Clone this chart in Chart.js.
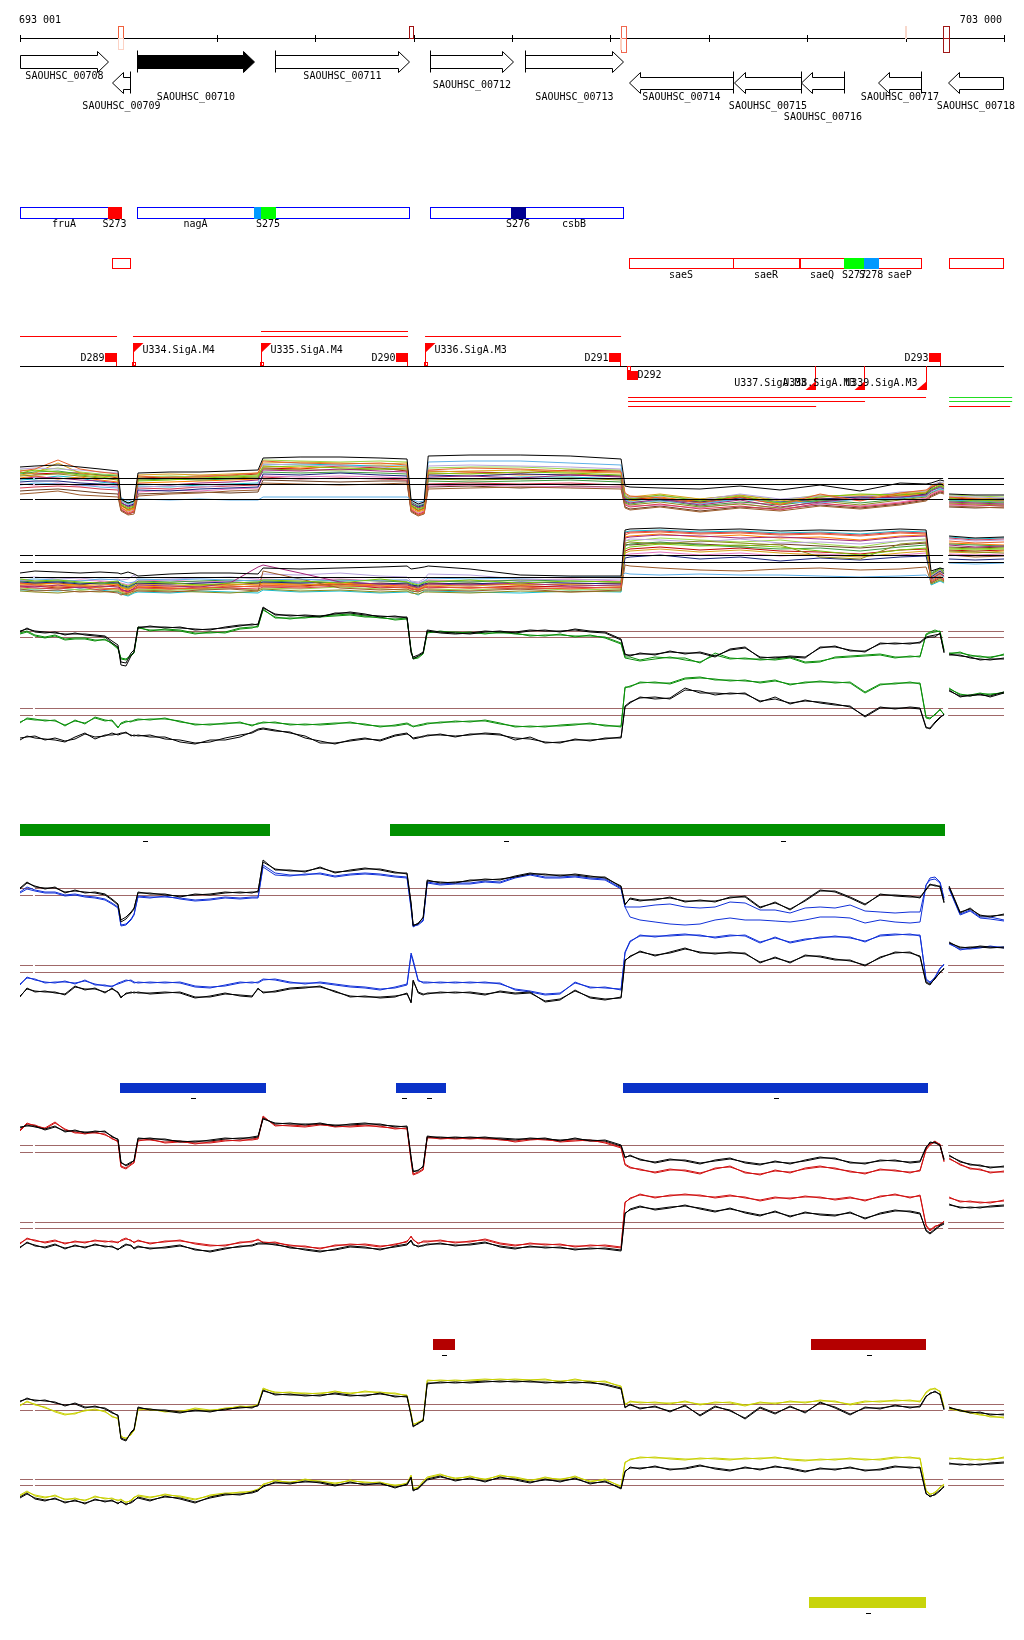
<!DOCTYPE html>
<html>
<head>
<meta charset="utf-8">
<script src="https://cdn.jsdelivr.net/npm/chart.js@4/dist/chart.umd.min.js"></script>
<style>
  html, body { margin: 0; background: #fff; }
  #c { display: block; }
</style>
</head>
<body>
<canvas id="c" width="1024" height="1640"></canvas>
<script>
// ---- region ----
const regionStart = 693001;
const regionEnd = 703000;
const axisTicks = [693001, 694001, 695001, 696001, 697001, 698001, 699001, 700001, 701001, 702001, 703000];

// ---- genes ----
const geneNames = ['SAOUHSC_00708', 'SAOUHSC_00709', 'SAOUHSC_00710', 'SAOUHSC_00711', 'SAOUHSC_00712', 'SAOUHSC_00713',
  'SAOUHSC_00714', 'SAOUHSC_00715', 'SAOUHSC_00716', 'SAOUHSC_00717', 'SAOUHSC_00718'];
const geneStart = [693001, 693936, 694190, 695593, 697168, 698133, 699190, 700257, 700938, 701721, 702432];
const geneEnd = [693895, 694119, 695379, 696955, 698011, 699129, 700247, 700938, 701375, 702158, 702991];
const geneStrand = [1, -1, 1, 1, 1, 1, -1, -1, -1, -1, -1];

// markers on the coordinate line
const markStart = [693997, 693997, 696954, 699109, 699099, 701995, 702381];
const markEnd = [694047, 694047, 696995, 699160, 699109, 702005, 702442];
const markColor = ['#f0603c', '#fcd2c4', '#a01010', '#f06850', '#fbd0c0', '#f8d8cc', '#a01818'];
const markSpan = ['up', 'down', 'up', 'full', 'down', 'up', 'full'];

// operon / site rows
const blueSegStart = [693001, 694190, 695593, 697168, 698133];
const blueSegEnd = [693895, 695379, 696955, 697991, 699129];
const blueSegLabel = ['fruA', 'nagA', '', '', 'csbB'];
const blueSiteStart = [693895, 695379, 695450, 697991];
const blueSiteEnd = [694027, 695450, 695593, 698133];
const blueSiteColor = ['#ff0000', '#0099ff', '#00ff00', '#000090'];
const blueSiteLabel = ['S273', '', 'S275', 'S276'];

const redSegStart = [693936, 699190, 700247, 700928, 701721, 702442];
const redSegEnd = [694119, 700247, 700918, 701375, 702158, 702991];
const redSegLabel = ['', 'saeS', 'saeR', 'saeQ', 'saeP', ''];
const redSiteStart = [701375, 701579];
const redSiteEnd = [701579, 701721];
const redSiteColor = ['#00ff00', '#0099ff'];
const redSiteLabel = ['S277', 'S278'];

// promoters (U) and terminators (D)
const flagNames = ['D289', 'U334.SigA.M4', 'U335.SigA.M4', 'D290', 'U336.SigA.M3', 'D291', 'D292',
  'U337.SigA.M3', 'U338.SigA.M3', 'U339.SigA.M3', 'D293'];
const flagPos = [693977, 694149, 695450, 696934, 697117, 699099, 699169, 701081, 701579, 702208, 702350];
const flagStrand = [1, 1, 1, 1, 1, 1, -1, -1, -1, -1, 1];

// transcripts
const txStart = [693001, 694149, 695450, 697117, 699180, 699180, 699180, 702442, 702442, 702442];
const txEnd = [693987, 696944, 696944, 699109, 702208, 701588, 701091, 703083, 703083, 703063];
const txStrand = [1, 1, 1, 1, -1, -1, -1, -1, -1, -1];
const txLevel = [0, 0, 1, 0, 0, 1, 2, 0, 1, 2];
const txColor = ['#ff0000', '#ff0000', '#ff0000', '#ff0000', '#ff0000', '#ff0000', '#ff0000', '#22dd22', '#22dd22', '#ff0000'];

// condition segments (bars)
const greenBarStart = [693001, 696761, 699109];
const greenBarEnd = [695542, 699109, 702401];
const blueBarStart = [694017, 696822, 696975, 699129];
const blueBarEnd = [695501, 696975, 697330, 702229];
const redBarStart = [697198, 701040];
const redBarEnd = [697422, 702208];
const yellowBarStart = [701020];
const yellowBarEnd = [702208];

// ---- profile positions ----
const gridPos = [693001, 693072, 693153, 693255, 693357, 693458, 693560, 693661, 693763, 693865, 693936, 693997,
  694027, 694078, 694129, 694160,
  694200, 694322, 694474, 694627, 694780, 694932, 695085, 695237, 695359, 695420,
  695471, 695593, 695745, 695898, 696050, 696202, 696355, 696507, 696660, 696812, 696934,
  696975, 696996, 697047, 697098,
  697139, 697271, 697424, 697574, 697727, 697879, 698032, 698184, 698337, 698489, 698641, 698794, 698946, 699109,
  699149, 699200, 699301, 699454, 699606, 699759, 699911, 700064, 700216, 700369, 700521, 700674, 700826, 700979,
  701131, 701283, 701436, 701588, 701741, 701893, 702045, 702147, 702208,
  702248, 702299, 702350, 702391,
  702411,
  702442, 702554, 702656, 702757, 702859, 703000];

const bundlePos = [693001, 693153, 693387, 693611, 693814, 693997,
  694027, 694099, 694160,
  694200, 694525, 694830, 695135, 695420,
  695471, 695847, 696253, 696660, 696934,
  696975, 697047, 697108,
  697149, 697574, 698083, 698591, 699109,
  699149, 699200, 699505, 699911, 700318, 700725, 701131, 701538, 701944, 702208,
  702259, 702350, 702391,
  702411,
  702442, 702706, 703000];

// ---- all-condition profiles, strand + ----
const bundleColors = ['#000000', '#e8602c', '#7ac70c', '#a3277a', '#5fb0e8', '#9b5a2a', '#8a8a1a', '#1a237e', '#b7a3dc',
  '#d9a21a', '#d6394f', '#3e9a3e', '#ff7f00', '#98d848', '#e377c2', '#17becf', '#6b3d1f', '#c00000'];
const bundleA1 = [3.2, 3.3, 3.4, 3.2, 3.0, 2.8, 0.0, -0.4, -0.2, 2.6, 2.7, 2.7, 2.8, 2.9, 4.1, 4.2, 4.2, 4.1, 4.0, -0.1, -0.5, -0.3, 4.3, 4.4, 4.4, 4.3, 4.0, 1.3, 1.2, 1.1, 1.0, 1.3, 0.9, 1.4, 0.8, 1.6, 1.5, 1.6, 1.9, 1.8, null, 0.5, 0.4, 0.4];
const bundleA2 = [2.8, 3.0, 3.9, 3.0, 2.7, 2.5, -0.8, -1.4, -1.2, 2.3, 2.1, 2.2, 2.4, 2.6, 3.8, 3.6, 3.5, 3.6, 3.4, -1.0, -1.6, -1.4, 2.9, 3.1, 3.0, 2.8, 2.7, 0.6, 0.3, 0.1, -0.4, 0.2, -0.6, 0.5, -0.2, 0.6, 0.9, 1.2, 1.5, 1.4, null, 0.2, 0.0, -0.1];
const bundleA3 = [2.6, 2.9, 2.7, 2.4, 2.2, 2.0, -0.5, -0.9, -0.7, 1.8, 1.9, 2.1, 2.2, 2.3, 3.2, 3.3, 3.1, 3.0, 3.1, -0.6, -1.0, -0.8, 2.6, 2.5, 2.7, 2.6, 2.4, 0.2, 0.0, 0.4, -0.2, 0.3, -0.4, 0.2, 0.5, 0.4, 0.6, 1.0, 1.4, 1.2, null, 0.1, -0.2, -0.1];
const bundleA4 = [2.0, 2.2, 2.1, 1.9, 1.8, 1.6, -0.3, -0.8, -0.6, 1.5, 1.4, 1.6, 1.7, 1.9, 2.9, 2.8, 3.0, 2.8, 2.7, -0.4, -0.9, -0.7, 2.2, 2.3, 2.1, 2.4, 2.2, -0.2, -0.4, 0.0, -0.6, -0.1, -0.8, -0.3, 0.1, 0.2, 0.4, 0.8, 1.2, 1.0, null, -0.3, -0.4, -0.5];
const bundleA5 = [1.4, 1.6, 1.5, 1.4, 1.2, 1.1, 0.1, -0.2, 0.0, 0.0, -0.1, 0.0, -0.1, -0.1, 0.2, 0.2, 0.2, 0.2, 0.2, 0.0, -0.3, -0.2, 3.7, 3.8, 3.8, 3.6, 3.4, -0.1, -0.3, -0.2, -0.5, 0.0, -0.3, -0.4, 0.0, 0.1, 0.3, 0.7, 1.0, 0.9, null, 0.0, -0.2, -0.2];
const bundleA6 = [0.5, 0.6, 0.8, 0.4, 0.3, 0.2, -1.2, -1.6, -1.5, 0.3, 0.5, 0.6, 0.8, 0.9, 1.6, 1.5, 1.4, 1.5, 1.6, -1.3, -1.7, -1.5, 1.0, 1.1, 1.2, 1.1, 1.0, -0.9, -1.1, -0.8, -1.3, -0.9, -1.2, -0.7, -1.0, -0.6, -0.2, 0.2, 0.6, 0.5, null, -0.7, -0.8, -0.9];
const bundleA7 = [2.3, 2.4, 2.5, 2.3, 2.1, 1.9, -0.6, -1.0, -0.8, 2.0, 2.1, 2.0, 2.1, 2.2, 3.0, 2.9, 2.9, 3.0, 2.9, -0.7, -1.1, -0.9, 2.0, 1.9, 2.0, 2.1, 1.9, -0.4, -0.6, -0.3, -0.8, -0.5, -0.9, -0.2, -0.6, -0.1, 0.2, 0.6, 1.0, 0.8, null, -0.4, -0.5, -0.6];
const bundleA8 = [1.7, 1.8, 1.8, 1.6, 1.5, 1.4, -0.4, -0.7, -0.5, 0.9, 0.8, 1.0, 1.1, 1.2, 2.5, 2.4, 2.6, 2.4, 2.3, -0.5, -0.8, -0.6, 2.4, 2.3, 2.5, 2.4, 2.3, 0.0, 0.0, -0.1, -0.3, 0.1, -0.3, 0.0, 0.2, 0.1, 0.5, 1.1, 1.6, 1.3, null, 0.0, -0.1, 0.0];
const bundleA9 = [3.0, 3.1, 3.0, 2.9, 2.7, 2.6, -0.2, -0.6, -0.4, 1.2, 1.3, 1.2, 1.4, 1.5, 3.5, 3.4, 3.3, 3.2, 3.0, -0.2, -0.6, -0.4, 3.3, 3.4, 3.3, 3.2, 3.0, 0.4, 0.1, 0.3, -0.1, 0.5, 0.0, 0.3, 0.2, 0.7, 0.8, 1.4, 1.7, 1.6, null, 0.3, 0.2, 0.1];
const bundleA10 = [2.4, 2.6, 3.6, 2.6, 2.3, 2.2, -0.9, -1.2, -1.0, 2.4, 2.5, 2.4, 2.5, 2.6, 3.6, 3.7, 3.6, 3.5, 3.6, -0.9, -1.3, -1.1, 2.7, 2.8, 2.9, 2.7, 2.6, 0.3, 0.2, 0.5, 0.0, 0.4, -0.2, 0.3, 0.4, 0.5, 0.7, 1.3, 1.6, 1.5, null, 0.2, 0.1, 0.0];
const bundleA11 = [1.1, 1.2, 1.3, 1.2, 1.0, 0.9, -1.0, -1.5, -1.3, 1.1, 1.0, 1.2, 1.3, 1.4, 2.2, 2.0, 2.1, 2.0, 1.9, -1.1, -1.5, -1.3, 1.5, 1.6, 1.5, 1.6, 1.4, -0.6, -0.8, -0.5, -1.0, -0.7, -1.1, -0.4, -0.8, -0.4, 0.0, 0.4, 0.8, 0.7, null, -0.5, -0.6, -0.7];
const bundleA12 = [2.5, 2.7, 2.8, 2.5, 2.4, 2.3, -0.1, -0.4, -0.2, 1.9, 2.0, 1.9, 2.0, 2.1, 2.7, 2.6, 2.7, 2.6, 2.5, -0.3, -0.7, -0.5, 1.8, 1.7, 1.8, 1.9, 1.7, -0.3, -0.5, -0.1, -0.7, -0.3, -0.6, -0.1, -0.4, 0.0, 0.3, 0.9, 1.3, 1.1, null, -0.2, -0.3, -0.4];
const bundleA13 = [2.1, 2.3, 2.0, 2.2, 1.9, 1.7, -0.7, -1.1, -0.9, 1.6, 1.7, 1.8, 1.9, 2.0, 3.3, 3.1, 3.2, 3.3, 3.2, -0.8, -1.2, -1.0, 2.5, 2.6, 2.4, 2.5, 2.3, 0.1, -0.2, 0.2, -0.3, 0.1, -0.5, 0.0, 0.3, 0.3, 0.5, 1.0, 1.3, 1.2, null, 0.0, -0.1, -0.3];
const bundleA14 = [2.9, 2.8, 3.1, 2.7, 2.5, 2.4, -0.4, -0.8, -0.6, 2.2, 2.3, 2.2, 2.3, 2.4, 3.9, 3.8, 3.7, 3.8, 3.7, -0.5, -0.9, -0.7, 3.1, 3.2, 3.2, 3.0, 2.9, 0.5, 0.2, 0.3, 0.0, 0.4, -0.1, 0.4, 0.1, 0.6, 0.8, 1.3, 1.7, 1.5, null, 0.4, 0.3, 0.2];
const bundleA15 = [1.5, 1.4, 1.6, 1.3, 1.4, 1.2, -0.9, -1.3, -1.1, 0.7, 0.9, 0.8, 1.0, 1.1, 2.3, 2.2, 2.3, 2.2, 2.1, -1.0, -1.4, -1.2, 1.3, 1.4, 1.3, 1.2, 1.2, -0.5, -0.7, -0.6, -0.9, -0.4, -1.0, -0.5, -0.7, -0.3, 0.1, 0.5, 0.9, 0.7, null, -0.6, -0.7, -0.6];
const bundleA16 = [1.9, 2.0, 2.3, 2.1, 1.7, 1.5, -0.2, -0.5, -0.3, 1.3, 1.2, 1.4, 1.5, 1.6, 3.4, 3.5, 3.4, 3.3, 3.3, -0.3, -0.7, -0.5, 2.1, 2.0, 2.2, 2.2, 2.0, -0.1, -0.2, 0.1, -0.4, 0.0, -0.4, -0.2, 0.0, 0.2, 0.4, 0.9, 1.1, 1.0, null, -0.1, -0.2, -0.3];
const bundleA17 = [0.8, 0.9, 1.0, 0.8, 0.6, 0.5, -1.1, -1.5, -1.3, 0.5, 0.6, 0.7, 0.6, 0.7, 1.9, 1.8, 1.7, 1.8, 1.8, -1.2, -1.6, -1.4, 1.2, 1.3, 1.1, 1.3, 1.2, -0.8, -1.0, -0.7, -1.2, -0.8, -1.0, -0.6, -0.9, -0.5, -0.1, 0.3, 0.7, 0.6, null, -0.8, -0.9, -0.8];
const bundleA18 = [2.7, 2.5, 2.6, 2.6, 2.4, 2.1, -0.6, -1.1, -0.9, 2.1, 2.2, 2.3, 2.3, 2.5, 3.1, 3.0, 3.3, 3.1, 2.8, -0.6, -1.2, -0.9, 2.8, 2.7, 2.6, 2.9, 2.8, 0.3, 0.1, 0.0, -0.2, 0.2, -0.3, 0.1, -0.1, 0.4, 0.6, 1.2, 1.5, 1.3, null, 0.1, 0.0, -0.2];

// ---- all-condition profiles, strand - ----
const bundleB1 = [0.4, 0.6, 0.5, 0.4, 0.5, 0.4, 0.3, 0.5, 0.3, 0.1, 0.3, 0.4, 0.4, 0.3, 0.9, 0.8, 0.9, 1.0, 1.1, 0.8, 0.9, 1.0, 1.1, 0.8, 0.2, 0.1, 0.1, 4.7, 4.8, 4.9, 4.7, 4.8, 4.6, 4.7, 4.6, 4.8, 4.7, 0.6, 0.9, 0.8, null, 4.1, 3.9, 4.0];
const bundleB2 = [-0.6, -0.8, -1.0, -0.9, -1.1, -1.2, -1.4, -1.6, -1.3, -1.0, -1.2, -1.1, -0.9, -1.0, -0.8, -1.0, -0.7, -0.9, -1.1, -1.2, -1.3, -1.1, -0.9, -1.1, -1.0, -1.2, -1.0, 4.2, 4.4, 4.5, 4.3, 4.4, 4.2, 4.3, 4.1, 4.4, 4.3, -0.4, 0.1, -0.2, null, 3.6, 3.4, 3.5];
const bundleB3 = [-0.2, -0.4, -0.3, -0.5, -0.6, -0.4, -0.7, -0.9, -0.6, -0.5, -0.6, -0.8, -0.6, -0.5, -0.3, -0.4, -0.6, -0.2, -0.5, -0.6, -0.8, -0.5, -0.5, -0.3, -0.6, -0.4, -0.5, 2.8, 3.0, 3.3, 3.1, 3.2, 3.0, 2.6, 2.2, 2.7, 2.9, 0.2, 0.8, 0.4, null, 2.9, 2.8, 2.9];
const bundleB4 = [-0.9, -1.0, -0.8, -1.1, -0.9, -1.0, -1.2, -1.5, -1.1, -0.8, -0.9, -1.0, -0.6, 1.0, 1.2, 0.4, -0.5, -0.7, -0.8, -0.9, -1.1, -0.8, -0.7, -0.8, -0.6, -0.9, -0.8, 3.9, 4.0, 4.2, 4.1, 3.9, 4.0, 3.8, 3.6, 4.0, 4.1, -0.2, 0.4, 0.1, null, 3.2, 3.0, 3.1];
const bundleB5 = [-0.3, -0.2, -0.3, -0.4, -0.2, -0.3, -0.4, -0.6, -0.5, -0.2, -0.3, -0.2, -0.3, -0.4, -0.3, -0.2, -0.4, -0.3, -0.3, -0.5, -0.7, -0.4, -0.1, -0.2, -0.1, 0.0, 0.0, 0.4, 0.3, 0.2, 0.3, 0.2, 0.2, 0.1, 0.0, 0.1, 0.2, -0.3, 0.2, 0.0, null, 1.4, 1.3, 1.4];
const bundleB6 = [-1.2, -1.4, -1.3, -1.5, -1.4, -1.6, -1.8, -1.6, -1.4, -1.4, -1.5, -1.3, -1.2, -1.4, 0.6, -0.2, -1.1, -1.3, -1.2, -1.4, -1.5, -1.3, -1.3, -1.4, -1.2, -1.5, -1.3, 1.2, 1.1, 0.9, 0.7, 0.6, 0.8, 0.9, 0.7, 0.8, 1.0, -0.6, -0.1, -0.4, null, 2.2, 2.0, 2.1];
const bundleB7 = [-1.4, -1.5, -1.6, -1.4, -1.5, -1.4, -1.6, -1.8, -1.5, -1.3, -1.4, -1.5, -1.6, -1.4, -1.2, -1.4, -1.3, -1.5, -1.4, -1.6, -1.7, -1.5, -1.5, -1.6, -1.4, -1.5, -1.4, 3.4, 3.5, 3.3, 3.6, 3.4, 3.2, 2.0, 1.8, 3.3, 3.5, -0.7, -0.3, -0.5, null, 2.6, 2.5, 2.4];
const bundleB8 = [-0.5, -0.6, -0.5, -0.7, -0.6, -0.5, -0.8, -1.0, -0.7, -0.6, -0.7, -0.6, -0.5, -0.6, -0.5, -0.6, -0.5, -0.7, -0.6, -0.8, -0.9, -0.7, -0.6, -0.7, -0.5, -0.6, -0.7, 1.9, 2.0, 2.2, 1.8, 2.0, 1.6, 1.9, 1.7, 2.0, 2.1, 0.0, 0.6, 0.3, null, 1.8, 1.7, 1.8];
const bundleB9 = [-0.1, 0.0, -0.2, -0.1, -0.3, -0.2, -0.3, -0.2, 0.2, -0.3, -0.2, -0.1, 0.0, -0.2, 0.3, 0.2, 0.4, 0.1, 0.0, -0.4, -0.5, -0.2, 0.3, 0.2, -0.2, -0.3, -0.2, 3.6, 3.8, 3.7, 3.5, 3.8, 3.4, 3.5, 3.3, 3.6, 3.7, 0.1, 0.7, 0.5, null, 3.8, 3.6, 3.7];
const bundleB10 = [-0.8, -0.7, -0.9, -0.8, -1.0, -0.9, -1.0, -1.2, -0.9, -0.7, -0.8, -0.9, -0.8, -0.7, -0.6, -0.7, -0.9, -0.8, -0.7, -1.0, -1.2, -0.9, -0.8, -0.9, -0.7, -0.8, -0.9, 2.4, 2.6, 2.8, 2.5, 2.7, 2.4, 2.2, 2.0, 2.4, 2.6, -0.1, 0.5, 0.3, null, 2.5, 2.4, 2.6];
const bundleB11 = [-1.0, -1.1, -1.2, -1.0, -1.3, -1.1, -1.3, -1.5, -1.2, -1.1, -1.2, -1.0, -1.1, -1.2, -1.0, -1.1, -0.9, -1.0, -1.0, -1.1, -1.4, -1.0, -1.1, -1.0, -1.2, -1.1, -1.0, 4.4, 4.5, 4.6, 4.4, 4.5, 4.3, 4.4, 4.2, 4.5, 4.4, -0.5, 0.0, -0.3, null, 3.9, 3.7, 3.8];
const bundleB12 = [-0.4, -0.5, -0.4, -0.6, -0.7, -0.6, -0.9, -1.1, -0.8, -0.4, -0.5, -0.4, -0.3, -0.4, -0.4, -0.5, -0.3, -0.4, -0.5, -0.7, -0.9, -0.6, -0.4, -0.5, -0.3, -0.4, -0.5, 3.1, 3.3, 3.5, 3.2, 3.0, 2.8, 2.9, 2.6, 3.0, 3.2, 0.4, 0.9, 0.6, null, 3.3, 3.2, 3.1];
const bundleB13 = [-0.7, -0.6, -0.7, -0.8, -0.8, -0.7, -1.1, -1.3, -1.0, -0.9, -1.0, -0.9, -0.7, -0.8, -0.7, -0.8, -0.6, -0.8, -0.9, -1.0, -1.2, -1.0, -0.6, -0.7, -0.8, -0.7, -0.6, 4.0, 4.1, 4.3, 4.0, 4.2, 3.9, 4.0, 3.7, 4.1, 4.2, -0.3, 0.3, 0.0, null, 3.4, 3.3, 3.2];
const bundleB14 = [-1.1, -1.2, -1.1, -1.3, -1.2, -1.3, -1.5, -1.7, -1.3, -1.2, -1.3, -1.2, -1.1, -1.3, -1.1, -1.2, -1.0, -1.2, -1.3, -1.3, -1.5, -1.2, -1.2, -1.3, -1.1, -1.3, -1.2, 3.7, 3.6, 3.9, 3.7, 3.5, 3.7, 3.3, 3.0, 3.6, 3.8, -0.6, -0.2, -0.4, null, 2.8, 2.7, 2.8];
const bundleB15 = [-0.3, -0.4, -0.5, -0.3, -0.4, -0.5, -0.6, -0.8, -0.5, -0.4, -0.3, -0.5, -0.4, -0.3, -0.2, -0.3, -0.2, -0.4, -0.3, -0.5, -0.6, -0.4, -0.3, -0.4, -0.3, -0.2, -0.4, 2.2, 2.3, 2.5, 2.2, 2.4, 2.1, 2.3, 2.1, 2.2, 2.4, 0.1, 0.7, 0.4, null, 2.3, 2.2, 2.3];
const bundleB16 = [-1.3, -1.3, -1.4, -1.2, -1.3, -1.5, -1.7, -1.9, -1.6, -1.5, -1.6, -1.4, -1.5, -1.6, -1.3, -1.5, -1.4, -1.6, -1.5, -1.5, -1.8, -1.4, -1.4, -1.5, -1.6, -1.4, -1.5, 4.5, 4.6, 4.7, 4.5, 4.6, 4.4, 4.5, 4.3, 4.6, 4.5, -0.8, -0.4, -0.6, null, 4.0, 3.8, 3.9];
const bundleB17 = [-0.6, -0.7, -0.6, -0.8, -0.5, -0.7, -1.0, -1.2, -0.9, -0.7, -0.6, -0.7, -0.8, -0.6, -0.6, -0.7, -0.8, -0.6, -0.7, -0.9, -1.0, -0.8, -0.7, -0.6, -0.8, -0.7, -0.6, 3.3, 3.2, 3.4, 3.3, 3.1, 3.3, 3.1, 2.9, 3.2, 3.4, 0.3, 0.8, 0.5, null, 3.0, 2.9, 3.0];
const bundleB18 = [-0.9, -0.9, -1.1, -1.0, -1.0, -0.8, -1.3, -1.4, -1.2, -1.0, -1.1, -1.2, -1.0, -0.9, -0.9, -0.9, -0.7, -1.1, -1.0, -1.2, -1.3, -1.0, -1.0, -1.1, -0.9, -1.0, -1.1, 2.6, 2.8, 3.0, 2.7, 2.9, 2.6, 2.5, 2.3, 2.7, 2.8, -0.2, 0.3, 0.1, null, 2.7, 2.6, 2.7];

// ---- condition 1 (green) vs reference (black), two replicates each ----
const c1PlusRef = [0.5, 0.9, 0.5, 0.4, 0.5, 0.2, 0.4, 0.2, 0.1, 0.0, -0.6, -1.0, -2.5, -2.6, -1.6, -1.3, 1.0, 1.0, 1.0, 0.9, 0.8, 0.7, 1.0, 1.2, 1.2, 1.3, 3.0, 2.2, 2.2, 2.1, 2.0, 2.4, 2.4, 2.2, 2.1, 2.0, 2.0, -1.6, -2.0, -1.8, -1.5, 0.6, 0.4, 0.3, 0.4, 0.6, 0.5, 0.5, 0.7, 0.6, 0.6, 0.7, 0.5, 0.4, -0.3, -1.8, -1.8, -1.7, -1.7, -1.5, -1.6, -1.6, -2.0, -1.2, -1.0, -2.1, -2.0, -2.0, -2.1, -1.0, -1.0, -1.3, -1.5, -0.6, -0.7, -0.6, -0.6, -0.1, 0.0, 0.0, 0.4, -1.6, null, -1.8, -1.8, -2.1, -2.2, -2.3, -2.1];
const c1PlusRef2 = [0.6, 0.8, 0.6, 0.5, 0.4, 0.3, 0.3, 0.3, 0.2, 0.1, -0.4, -0.8, -2.8, -2.9, -1.9, -1.5, 0.9, 1.1, 0.9, 1.0, 0.7, 0.8, 0.9, 1.1, 1.3, 1.2, 2.9, 2.3, 2.1, 2.2, 2.1, 2.3, 2.5, 2.3, 2.0, 2.1, 1.9, -1.4, -2.2, -1.9, -1.6, 0.7, 0.5, 0.4, 0.3, 0.5, 0.6, 0.4, 0.6, 0.7, 0.5, 0.8, 0.6, 0.5, -0.2, -1.7, -1.9, -1.6, -1.8, -1.4, -1.7, -1.5, -1.9, -1.3, -1.1, -2.0, -2.1, -1.9, -2.0, -1.1, -0.9, -1.4, -1.4, -0.7, -0.6, -0.7, -0.5, 0.0, 0.1, 0.2, 0.3, -1.5, null, -1.7, -1.9, -2.0, -2.3, -2.2, -2.2];
const c1Plus = [0.4, 0.6, 0.2, 0.0, 0.2, -0.2, -0.1, -0.1, -0.3, -0.3, -0.6, -1.1, -2.1, -2.2, -1.8, -1.5, 1.0, 0.6, 0.8, 0.7, 0.4, 0.4, 0.5, 0.9, 1.0, 1.0, 2.8, 1.9, 1.9, 1.9, 2.1, 2.2, 2.3, 2.1, 1.9, 1.8, 1.9, -1.3, -2.1, -2.0, -1.6, 0.5, 0.5, 0.5, 0.4, 0.4, 0.4, 0.4, 0.1, 0.2, 0.2, 0.1, 0.1, 0.0, -0.6, -2.0, -2.0, -2.3, -2.0, -2.1, -2.1, -2.6, -1.6, -2.1, -2.2, -2.2, -2.3, -2.1, -2.6, -2.5, -2.0, -1.9, -1.8, -1.7, -2.0, -2.0, -1.9, 0.2, 0.4, 0.5, 0.6, -1.3, null, -1.6, -1.6, -1.8, -2.0, -2.0, -1.8];
const c1Plus2 = [0.3, 0.5, 0.1, -0.1, 0.1, -0.3, -0.2, -0.2, -0.4, -0.2, -0.7, -1.2, -2.2, -2.3, -1.9, -1.6, 0.9, 0.7, 0.7, 0.6, 0.3, 0.5, 0.4, 0.8, 0.9, 1.1, 2.7, 2.0, 1.8, 2.0, 2.0, 2.1, 2.2, 2.0, 2.0, 1.7, 1.8, -1.4, -2.2, -2.1, -1.7, 0.4, 0.6, 0.4, 0.5, 0.3, 0.5, 0.3, 0.2, 0.1, 0.3, 0.0, 0.2, -0.1, -0.7, -2.1, -2.2, -2.4, -2.2, -2.0, -2.3, -2.5, -1.8, -2.2, -2.1, -2.3, -2.2, -2.0, -2.5, -2.4, -2.1, -2.0, -1.9, -1.8, -2.1, -1.9, -2.0, 0.3, 0.5, 0.7, 0.5, -1.4, null, -1.7, -1.5, -1.9, -1.9, -2.1, -1.7];
const c1MinusRef = [-2.5, -2.1, -2.3, -2.4, -2.5, -2.7, -2.2, -1.8, -2.4, -2.0, -2.0, -1.9, -1.8, -1.8, -2.0, -2.1, -2.0, -2.2, -2.2, -2.7, -2.9, -2.5, -2.5, -2.2, -1.7, -1.4, -1.3, -1.5, -1.8, -2.1, -2.8, -2.8, -2.6, -2.4, -2.5, -2.0, -1.8, -2.2, -2.3, -2.2, -2.2, -2.0, -2.0, -2.1, -2.0, -1.8, -1.9, -2.5, -2.2, -2.8, -2.7, -2.5, -2.5, -2.4, -2.2, 0.8, 1.2, 1.8, 1.6, 1.7, 2.7, 2.2, 2.2, 2.1, 2.2, 1.3, 1.8, 1.1, 1.5, 1.2, 1.0, 0.9, -0.2, 0.7, 0.7, 0.7, 0.6, -1.3, -1.3, -0.7, -0.2, 0.0, null, 2.5, 1.8, 2.0, 2.0, 1.9, 2.3];
const c1MinusRef2 = [-2.3, -2.2, -2.1, -2.5, -2.3, -2.6, -2.4, -1.9, -2.2, -2.1, -1.8, -2.0, -1.9, -1.7, -2.1, -2.0, -2.1, -2.0, -2.4, -2.5, -2.8, -2.7, -2.3, -2.0, -1.8, -1.5, -1.4, -1.6, -1.7, -2.3, -2.6, -2.9, -2.5, -2.3, -2.6, -2.1, -1.9, -2.1, -2.4, -2.3, -2.1, -2.1, -1.9, -2.2, -1.9, -1.9, -2.0, -2.3, -2.4, -2.7, -2.8, -2.4, -2.6, -2.3, -2.3, 0.9, 1.3, 1.7, 1.8, 1.6, 2.5, 2.4, 2.0, 2.2, 2.1, 1.4, 1.6, 1.2, 1.4, 1.3, 1.1, 0.8, -0.1, 0.8, 0.6, 0.8, 0.7, -1.2, -1.4, -0.8, -0.3, 0.1, null, 2.4, 1.9, 1.9, 2.1, 1.8, 2.2];
const c1Minus = [-0.8, -0.3, -0.4, -0.6, -0.5, -1.1, -0.5, -0.9, -0.2, -0.5, -0.6, -1.3, -0.8, -0.6, -0.7, -0.5, -0.4, -0.5, -0.3, -0.7, -0.9, -1.0, -0.8, -0.8, -1.0, -0.9, -0.7, -0.8, -0.9, -1.0, -0.9, -0.8, -0.8, -0.9, -1.2, -1.0, -0.8, -1.0, -1.2, -1.0, -0.9, -0.8, -0.8, -0.6, -0.7, -0.5, -0.8, -1.2, -1.1, -1.2, -1.0, -0.9, -0.9, -1.0, -1.2, 2.8, 2.8, 3.3, 3.2, 3.2, 3.7, 3.8, 3.5, 3.5, 3.4, 3.3, 3.5, 3.0, 3.3, 3.3, 3.3, 3.2, 2.2, 3.0, 3.2, 3.2, 3.2, -0.2, -0.3, 0.0, 0.6, 0.0, null, 2.7, 2.0, 2.0, 2.2, 2.0, 2.3];
const c1Minus2 = [-0.7, -0.4, -0.5, -0.5, -0.6, -1.0, -0.6, -0.8, -0.3, -0.6, -0.5, -1.2, -0.9, -0.7, -0.6, -0.6, -0.5, -0.4, -0.4, -0.6, -1.0, -0.9, -0.9, -0.7, -1.1, -0.8, -0.8, -0.7, -1.0, -0.9, -1.0, -0.9, -0.7, -1.0, -1.1, -1.1, -0.9, -1.1, -1.1, -1.1, -1.0, -0.9, -0.7, -0.7, -0.6, -0.6, -0.9, -1.1, -1.2, -1.1, -1.1, -1.0, -0.8, -1.1, -1.1, 2.7, 2.9, 3.2, 3.3, 3.1, 3.6, 3.7, 3.6, 3.4, 3.5, 3.2, 3.4, 3.1, 3.2, 3.4, 3.2, 3.3, 2.3, 3.1, 3.1, 3.3, 3.1, -0.3, -0.4, 0.1, 0.5, 0.1, null, 2.6, 2.1, 1.9, 2.1, 2.1, 2.2];

// ---- condition 2 (blue) vs reference (black) ----
const c2PlusRef = [0.7, 1.3, 0.8, 0.7, 0.7, 0.3, 0.4, 0.3, 0.2, 0.0, -0.5, -1.0, -2.5, -2.2, -1.7, -1.3, 0.2, 0.2, 0.0, -0.1, 0.0, 0.1, 0.3, 0.2, 0.3, 0.3, 3.5, 2.5, 2.5, 2.3, 2.8, 2.2, 2.5, 2.7, 2.5, 2.2, 2.2, -0.8, -3.1, -2.8, -2.3, 1.5, 1.2, 1.3, 1.4, 1.6, 1.5, 1.9, 2.2, 2.0, 2.0, 2.0, 1.8, 1.8, 0.8, -1.0, -0.3, -0.5, -0.5, -0.2, -0.7, -0.5, -0.7, -0.2, -0.2, -1.3, -0.7, -1.5, -0.5, 0.5, 0.3, -0.3, -1.0, 0.1, -0.1, -0.2, -0.2, 0.5, 1.0, 1.0, 0.8, -0.8, null, 0.8, -1.8, -1.3, -2.1, -2.1, -2.0];
const c2PlusRef2 = [0.6, 1.2, 0.9, 0.6, 0.8, 0.2, 0.5, 0.2, 0.3, 0.1, -0.4, -0.9, -2.7, -2.4, -1.8, -1.4, 0.3, 0.1, 0.1, -0.2, 0.1, 0.0, 0.2, 0.3, 0.2, 0.4, 3.3, 2.6, 2.4, 2.4, 2.7, 2.3, 2.4, 2.6, 2.6, 2.3, 2.1, -0.9, -3.0, -2.9, -2.2, 1.4, 1.3, 1.2, 1.5, 1.5, 1.6, 1.8, 2.1, 2.1, 1.9, 2.1, 1.9, 1.7, 0.9, -0.9, -0.4, -0.6, -0.4, -0.3, -0.6, -0.6, -0.6, -0.3, -0.1, -1.2, -0.8, -1.4, -0.6, 0.4, 0.4, -0.2, -0.9, 0.0, 0.0, -0.1, -0.3, 0.6, 1.1, 0.9, 0.9, -0.7, null, 0.9, -1.7, -1.4, -2.0, -2.2, -1.9];
const c2PlusA = [0.3, 0.8, 0.5, 0.3, 0.3, 0.0, 0.1, -0.1, -0.2, -0.4, -0.8, -1.2, -3.1, -3.0, -2.5, -2.0, -0.1, -0.2, -0.2, -0.3, -0.5, -0.4, -0.2, -0.3, -0.2, -0.2, 3.0, 2.2, 2.0, 2.0, 2.2, 1.9, 2.1, 2.2, 2.1, 1.9, 1.8, -1.2, -3.2, -2.9, -2.5, 1.3, 1.1, 1.2, 1.2, 1.4, 1.3, 1.8, 2.1, 1.8, 1.8, 1.9, 1.7, 1.6, 0.7, -1.2, -1.2, -1.2, -1.0, -0.9, -1.2, -1.3, -1.2, -0.7, -0.8, -1.5, -1.5, -1.8, -1.3, -1.2, -1.3, -1.0, -1.6, -1.7, -1.8, -1.7, -1.7, 1.0, 1.5, 1.6, 1.2, -0.5, null, 0.7, -1.9, -1.5, -2.2, -2.2, -2.5];
const c2PlusB = [0.2, 0.6, 0.4, 0.2, 0.2, -0.1, 0.0, -0.2, -0.3, -0.5, -0.9, -1.3, -3.0, -2.9, -2.4, -1.9, -0.2, -0.3, -0.1, -0.4, -0.6, -0.5, -0.3, -0.4, -0.3, -0.3, 2.8, 2.0, 1.9, 2.1, 2.1, 1.8, 2.0, 2.1, 2.0, 1.8, 1.7, -1.4, -3.1, -3.0, -2.6, 1.2, 1.0, 1.1, 1.1, 1.3, 1.2, 1.7, 2.0, 1.7, 1.7, 1.8, 1.6, 1.5, 0.6, -1.2, -2.2, -2.5, -2.7, -2.9, -3.0, -2.9, -2.5, -2.3, -2.5, -2.5, -2.6, -2.7, -2.5, -2.2, -2.2, -2.3, -2.8, -2.5, -2.7, -2.8, -2.7, 1.0, 1.7, 1.8, 1.3, -0.3, null, 0.6, -2.0, -1.6, -2.3, -2.4, -2.6];
const c2MinusRef = [-2.5, -1.6, -2.0, -1.9, -2.1, -2.2, -1.4, -1.8, -1.6, -2.1, -1.6, -2.1, -2.6, -2.1, -2.1, -2.0, -2.1, -2.1, -2.0, -2.1, -2.6, -2.4, -2.1, -2.4, -2.5, -1.6, -2.1, -1.9, -1.6, -1.5, -1.5, -1.9, -2.5, -2.4, -2.6, -2.5, -2.1, -3.1, -0.8, -2.1, -2.3, -2.1, -2.1, -2.0, -2.1, -2.3, -1.9, -2.1, -2.0, -3.0, -2.8, -1.8, -2.6, -2.8, -2.5, 1.2, 1.5, 2.1, 1.6, 2.0, 2.4, 1.9, 1.9, 1.9, 1.9, 0.9, 1.5, 0.9, 1.7, 1.5, 1.2, 1.2, 0.6, 1.5, 1.9, 2.0, 1.5, -1.1, -1.3, -0.6, -0.1, 0.4, null, 3.0, 2.4, 2.5, 2.5, 2.4, 2.5];
const c2MinusRef2 = [-2.4, -1.7, -1.9, -2.0, -2.0, -2.3, -1.5, -1.7, -1.7, -2.0, -1.7, -2.0, -2.5, -2.2, -2.0, -2.1, -2.0, -2.2, -2.1, -2.0, -2.5, -2.5, -2.2, -2.3, -2.4, -1.7, -2.0, -2.0, -1.7, -1.6, -1.4, -2.0, -2.4, -2.5, -2.5, -2.4, -2.2, -3.0, -0.9, -2.0, -2.2, -2.2, -2.0, -2.1, -2.0, -2.2, -2.0, -2.2, -2.1, -2.9, -2.7, -1.9, -2.5, -2.7, -2.6, 1.1, 1.6, 2.0, 1.7, 1.9, 2.3, 2.0, 1.8, 2.0, 1.8, 1.0, 1.4, 1.0, 1.6, 1.6, 1.3, 1.1, 0.7, 1.4, 2.0, 1.9, 1.6, -1.0, -1.2, -0.7, 0.0, 0.3, null, 2.9, 2.5, 2.4, 2.6, 2.5, 2.4];
const c2Minus = [-1.3, -0.5, -0.8, -1.0, -1.1, -0.9, -1.2, -0.8, -1.3, -1.3, -1.5, -1.1, -1.0, -0.8, -0.9, -1.1, -1.0, -1.1, -1.0, -1.1, -1.5, -1.6, -1.3, -1.0, -1.1, -1.0, -0.7, -0.8, -1.1, -1.1, -1.1, -1.3, -1.5, -1.6, -1.8, -1.5, -1.2, 1.9, 1.2, -0.8, -1.1, -1.1, -1.0, -1.1, -1.0, -1.1, -1.1, -1.8, -2.0, -2.3, -2.2, -1.0, -1.6, -1.5, -1.8, 1.9, 3.0, 3.7, 3.5, 3.7, 3.8, 3.6, 3.5, 3.7, 3.6, 2.9, 3.5, 2.9, 3.2, 3.5, 3.5, 3.5, 3.0, 3.7, 3.8, 3.7, 3.7, -0.8, -1.1, -0.5, 0.4, 0.7, null, 2.9, 2.2, 2.4, 2.5, 2.5, 2.5];
const c2Minus2 = [-1.2, -0.6, -0.7, -1.1, -1.0, -1.0, -1.1, -0.9, -1.2, -1.4, -1.4, -1.2, -1.1, -0.9, -0.8, -1.0, -1.1, -1.0, -1.1, -1.0, -1.4, -1.5, -1.4, -1.1, -1.0, -1.1, -0.8, -0.7, -1.0, -1.2, -1.0, -1.2, -1.4, -1.5, -1.7, -1.6, -1.3, 1.7, 1.0, -0.9, -1.0, -1.0, -1.1, -1.0, -1.1, -1.0, -1.2, -1.7, -1.9, -2.2, -2.1, -1.1, -1.5, -1.6, -1.7, 2.0, 3.1, 3.6, 3.6, 3.6, 3.7, 3.7, 3.4, 3.6, 3.7, 3.0, 3.4, 3.0, 3.3, 3.4, 3.6, 3.4, 3.1, 3.6, 3.7, 3.8, 3.6, -0.7, -1.0, -0.6, 0.3, 0.8, null, 2.8, 2.3, 2.3, 2.4, 2.6, 2.4];

// ---- condition 3 (red) vs reference (black) ----
const c3PlusRef = [2.4, 2.7, 2.5, 2.3, 2.6, 2.0, 2.2, 1.9, 2.1, 2.0, 1.6, 1.2, -1.0, -1.4, -1.1, -0.8, 1.3, 1.4, 1.2, 1.1, 1.0, 1.2, 1.4, 1.3, 1.5, 1.6, 3.4, 2.8, 2.9, 2.7, 2.9, 2.6, 2.8, 2.9, 2.7, 2.6, 2.5, -0.5, -2.0, -1.8, -1.5, 1.6, 1.4, 1.5, 1.4, 1.5, 1.3, 1.2, 1.4, 1.3, 1.2, 1.3, 1.2, 1.1, 0.6, -0.6, -0.3, -0.8, -1.0, -0.7, -0.9, -1.2, -0.8, -0.6, -1.1, -1.3, -0.9, -1.2, -0.8, -0.5, -0.7, -1.0, -1.2, -0.8, -0.9, -1.0, -0.9, 0.5, 0.9, 1.0, 0.6, -0.8, null, -0.3, -1.0, -1.2, -1.4, -1.5, -1.5];
const c3PlusRef2 = [2.5, 2.6, 2.6, 2.2, 2.5, 2.1, 2.1, 2.0, 2.0, 2.1, 1.5, 1.3, -1.1, -1.3, -1.0, -0.9, 1.4, 1.3, 1.3, 1.0, 1.1, 1.1, 1.3, 1.4, 1.4, 1.5, 3.3, 2.9, 2.8, 2.8, 2.8, 2.7, 2.7, 2.8, 2.8, 2.5, 2.6, -0.6, -1.9, -1.9, -1.4, 1.5, 1.5, 1.4, 1.5, 1.4, 1.4, 1.3, 1.3, 1.4, 1.1, 1.4, 1.1, 1.2, 0.7, -0.5, -0.4, -0.7, -1.1, -0.8, -0.8, -1.1, -0.9, -0.7, -1.0, -1.2, -1.0, -1.1, -0.9, -0.6, -0.6, -1.1, -1.1, -0.9, -0.8, -1.1, -1.0, 0.4, 1.0, 0.9, 0.7, -0.7, null, -0.4, -0.9, -1.3, -1.3, -1.6, -1.4];
const c3Plus = [2.2, 2.9, 2.6, 2.4, 3.0, 2.2, 2.0, 1.8, 2.0, 1.7, 1.4, 1.0, -1.4, -1.6, -1.2, -1.0, 1.2, 1.2, 1.0, 1.1, 0.8, 1.0, 1.2, 1.1, 1.3, 1.4, 3.6, 2.6, 2.7, 2.6, 2.8, 2.5, 2.6, 2.7, 2.5, 2.4, 2.3, -0.8, -2.2, -2.0, -1.7, 1.5, 1.3, 1.4, 1.3, 1.4, 1.2, 1.1, 1.3, 1.2, 1.1, 1.2, 1.1, 1.0, 0.5, -1.2, -1.5, -1.8, -2.0, -1.7, -1.9, -2.2, -1.6, -1.5, -2.0, -2.3, -1.8, -2.1, -1.6, -1.4, -1.7, -1.9, -2.2, -1.7, -1.9, -2.0, -1.9, 0.3, 0.8, 1.1, 0.7, -0.9, null, -0.6, -1.3, -1.6, -1.8, -2.0, -2.0];
const c3Plus2 = [2.1, 2.8, 2.7, 2.3, 2.9, 2.3, 1.9, 1.9, 1.9, 1.8, 1.3, 1.1, -1.5, -1.7, -1.3, -1.1, 1.1, 1.3, 0.9, 1.0, 0.9, 0.9, 1.1, 1.2, 1.2, 1.3, 3.5, 2.7, 2.6, 2.5, 2.7, 2.6, 2.5, 2.6, 2.6, 2.3, 2.4, -0.9, -2.3, -2.1, -1.8, 1.4, 1.4, 1.3, 1.4, 1.3, 1.3, 1.0, 1.2, 1.3, 1.0, 1.1, 1.2, 0.9, 0.4, -1.3, -1.6, -1.7, -2.1, -1.8, -1.8, -2.1, -1.7, -1.4, -2.1, -2.2, -1.9, -2.0, -1.7, -1.5, -1.6, -2.0, -2.1, -1.8, -1.8, -2.1, -1.8, 0.2, 0.7, 1.0, 0.8, -1.0, null, -0.7, -1.2, -1.7, -1.7, -2.1, -1.9];
const c3MinusRef = [-2.0, -1.4, -1.8, -1.9, -1.6, -2.1, -1.7, -2.0, -1.6, -1.9, -1.8, -2.2, -1.9, -1.6, -1.8, -2.0, -1.8, -2.1, -1.9, -1.7, -2.2, -2.3, -2.0, -1.9, -1.7, -1.5, -1.5, -1.7, -1.9, -2.2, -2.4, -2.1, -1.8, -1.9, -2.2, -1.8, -1.6, -1.2, -1.6, -1.9, -1.7, -1.7, -1.5, -1.8, -1.6, -1.4, -1.9, -2.1, -1.8, -2.0, -1.9, -2.2, -2.0, -2.1, -2.3, 1.4, 1.9, 2.2, 1.8, 2.0, 2.3, 1.9, 1.6, 2.0, 1.5, 1.2, 1.7, 1.1, 1.6, 1.3, 1.2, 1.6, 0.9, 1.5, 1.8, 1.6, 1.4, -0.2, -0.5, -0.1, 0.3, 0.5, null, 2.4, 2.0, 2.1, 2.0, 2.2, 2.3];
const c3MinusRef2 = [-1.9, -1.5, -1.7, -2.0, -1.7, -2.0, -1.8, -1.9, -1.7, -1.8, -1.9, -2.1, -2.0, -1.7, -1.7, -2.1, -1.9, -2.0, -2.0, -1.8, -2.1, -2.4, -2.1, -1.8, -1.8, -1.6, -1.6, -1.6, -2.0, -2.1, -2.3, -2.2, -1.9, -2.0, -2.1, -1.9, -1.7, -1.3, -1.7, -1.8, -1.8, -1.6, -1.6, -1.7, -1.7, -1.5, -1.8, -2.0, -1.9, -1.9, -2.0, -2.1, -2.1, -2.0, -2.2, 1.5, 1.8, 2.1, 1.9, 2.1, 2.2, 2.0, 1.7, 1.9, 1.6, 1.3, 1.6, 1.2, 1.5, 1.4, 1.3, 1.5, 1.0, 1.4, 1.7, 1.7, 1.5, -0.3, -0.6, -0.2, 0.2, 0.4, null, 2.3, 2.1, 2.0, 2.1, 2.1, 2.2];
const c3Minus = [-1.6, -1.0, -1.3, -1.4, -1.2, -1.6, -1.3, -1.5, -1.2, -1.4, -1.3, -1.5, -1.2, -1.0, -1.3, -1.4, -1.3, -1.5, -1.4, -1.2, -1.6, -1.8, -1.7, -1.5, -1.3, -1.2, -1.4, -1.5, -1.7, -1.9, -2.0, -1.8, -1.6, -1.7, -1.9, -1.6, -1.4, -0.8, -1.2, -1.5, -1.4, -1.4, -1.2, -1.5, -1.3, -1.2, -1.6, -1.8, -1.5, -1.7, -1.6, -1.9, -1.7, -1.8, -2.0, 2.5, 3.0, 3.3, 3.1, 3.2, 3.4, 3.2, 3.1, 3.3, 3.0, 2.8, 3.1, 2.9, 3.2, 3.0, 2.9, 3.1, 2.7, 3.2, 3.3, 3.1, 3.2, 0.2, -0.3, 0.1, 0.4, 0.6, null, 3.1, 2.6, 2.7, 2.5, 2.6, 2.7];
const c3Minus2 = [-1.5, -1.1, -1.2, -1.5, -1.3, -1.5, -1.4, -1.4, -1.3, -1.3, -1.4, -1.4, -1.3, -1.1, -1.2, -1.5, -1.2, -1.6, -1.3, -1.3, -1.5, -1.7, -1.8, -1.4, -1.4, -1.1, -1.5, -1.4, -1.8, -1.8, -2.1, -1.7, -1.7, -1.6, -1.8, -1.7, -1.3, -0.9, -1.1, -1.6, -1.3, -1.3, -1.3, -1.4, -1.4, -1.1, -1.5, -1.7, -1.6, -1.6, -1.7, -1.8, -1.8, -1.7, -1.9, 2.6, 2.9, 3.4, 3.0, 3.3, 3.3, 3.3, 3.0, 3.2, 3.1, 2.7, 3.0, 3.0, 3.1, 3.1, 2.8, 3.0, 2.8, 3.1, 3.4, 3.0, 3.3, 0.3, -0.2, 0.2, 0.3, 0.7, null, 3.0, 2.7, 2.6, 2.6, 2.5, 2.8];

// ---- condition 4 (yellow) vs reference (black) ----
const c4PlusRef = [0.8, 1.2, 0.9, 1.0, 0.7, 0.5, 0.6, 0.2, 0.4, 0.1, -0.3, -0.5, -2.8, -3.0, -2.3, -2.0, 0.2, 0.1, -0.1, -0.3, 0.0, -0.2, 0.1, 0.2, 0.3, 0.4, 2.0, 1.5, 1.6, 1.4, 1.5, 1.6, 1.4, 1.5, 1.6, 1.4, 1.3, -0.5, -1.6, -1.4, -1.0, 2.6, 2.8, 2.7, 2.8, 2.9, 2.8, 2.9, 2.8, 2.8, 2.7, 2.8, 2.7, 2.6, 2.2, 0.2, 0.6, 0.1, 0.4, -0.2, 0.5, -0.6, 0.3, 0.0, -0.9, 0.2, -0.4, 0.4, -0.3, 0.8, 0.2, -0.5, 0.3, 0.1, 0.5, 0.2, 0.4, 1.4, 1.6, 1.9, 1.5, 0.0, null, 0.3, -0.1, -0.2, -0.3, -0.4, -0.5];
const c4PlusRef2 = [0.9, 1.1, 1.0, 0.9, 0.8, 0.4, 0.7, 0.3, 0.3, 0.2, -0.2, -0.6, -2.9, -3.1, -2.2, -1.9, 0.3, 0.0, 0.0, -0.2, -0.1, -0.1, 0.0, 0.3, 0.2, 0.5, 1.9, 1.6, 1.5, 1.5, 1.4, 1.7, 1.5, 1.4, 1.7, 1.3, 1.4, -0.6, -1.7, -1.3, -1.1, 2.7, 2.7, 2.8, 2.7, 2.8, 2.9, 2.8, 2.9, 2.7, 2.8, 2.7, 2.8, 2.5, 2.1, 0.3, 0.5, 0.2, 0.3, -0.1, 0.4, -0.5, 0.4, -0.1, -0.8, 0.3, -0.3, 0.3, -0.2, 0.7, 0.3, -0.4, 0.2, 0.2, 0.4, 0.3, 0.3, 1.3, 1.7, 1.8, 1.6, 0.1, null, 0.2, 0.0, -0.3, -0.2, -0.5, -0.4];
const c4Plus = [0.4, 0.9, 0.5, 0.3, -0.2, -0.5, -0.3, -0.1, 0.1, -0.2, -0.6, -0.9, -2.6, -2.9, -2.4, -2.1, 0.0, 0.1, -0.2, -0.1, 0.1, -0.1, 0.2, 0.3, 0.4, 0.5, 2.2, 1.7, 1.8, 1.6, 1.7, 1.8, 1.7, 1.8, 1.8, 1.6, 1.5, -0.3, -1.4, -1.3, -0.9, 2.9, 3.0, 2.9, 3.0, 3.1, 3.0, 3.1, 3.0, 3.0, 2.9, 3.0, 2.9, 2.8, 2.4, 0.5, 0.9, 0.7, 0.8, 0.6, 0.9, 0.5, 0.8, 0.7, 0.4, 0.8, 0.6, 0.9, 0.7, 1.0, 0.8, 0.6, 0.9, 0.8, 1.0, 0.9, 0.9, 1.7, 2.0, 2.2, 1.8, 0.3, null, 0.1, -0.1, -0.3, -0.5, -0.6, -0.8];
const c4Plus2 = [0.5, 0.8, 0.6, 0.2, -0.1, -0.4, -0.4, 0.0, 0.0, -0.1, -0.7, -0.8, -2.7, -2.8, -2.5, -2.0, 0.1, 0.0, -0.1, -0.2, 0.2, 0.0, 0.1, 0.4, 0.3, 0.6, 2.1, 1.8, 1.7, 1.7, 1.6, 1.9, 1.6, 1.9, 1.7, 1.7, 1.4, -0.4, -1.5, -1.2, -1.0, 3.0, 2.9, 3.0, 2.9, 3.0, 3.1, 3.0, 3.0, 3.1, 2.8, 3.1, 2.8, 2.9, 2.3, 0.6, 0.8, 0.8, 0.7, 0.7, 0.8, 0.6, 0.7, 0.8, 0.5, 0.7, 0.7, 0.8, 0.8, 0.9, 0.9, 0.5, 0.8, 0.9, 0.9, 1.0, 0.8, 1.8, 2.1, 2.1, 1.9, 0.2, null, 0.2, 0.0, -0.2, -0.4, -0.7, -0.7];
const c4MinusRef = [-1.2, -0.8, -1.4, -1.6, -1.3, -1.8, -1.5, -1.9, -1.4, -1.7, -1.5, -1.9, -1.6, -2.0, -1.7, -1.5, -1.3, -1.6, -1.1, -1.4, -1.8, -1.2, -0.9, -1.0, -0.7, -0.5, -0.2, 0.3, 0.1, 0.4, 0.2, -0.1, 0.3, 0.0, 0.2, -0.3, 0.1, 0.8, -0.6, -0.3, 0.2, 0.6, 0.9, 0.4, 0.7, 0.3, 0.8, 0.5, 0.2, 0.6, 0.3, 0.7, 0.1, 0.4, -0.4, 1.3, 1.8, 1.6, 1.9, 1.5, 1.7, 2.0, 1.6, 1.4, 1.8, 1.5, 1.9, 1.6, 1.3, 1.7, 1.5, 1.8, 1.4, 1.6, 1.9, 1.7, 1.8, -0.8, -1.2, -0.9, -0.5, -0.2, null, 2.2, 2.0, 2.1, 2.0, 2.2, 2.3];
const c4MinusRef2 = [-1.3, -0.9, -1.3, -1.5, -1.4, -1.7, -1.6, -1.8, -1.5, -1.6, -1.6, -1.8, -1.7, -1.9, -1.8, -1.6, -1.2, -1.5, -1.2, -1.3, -1.7, -1.3, -1.0, -0.9, -0.8, -0.6, -0.1, 0.2, 0.2, 0.3, 0.3, 0.0, 0.2, 0.1, 0.1, -0.2, 0.0, 0.7, -0.5, -0.4, 0.1, 0.5, 0.8, 0.5, 0.6, 0.4, 0.7, 0.6, 0.3, 0.5, 0.4, 0.6, 0.2, 0.3, -0.3, 1.4, 1.7, 1.7, 1.8, 1.6, 1.6, 1.9, 1.7, 1.5, 1.7, 1.6, 1.8, 1.7, 1.4, 1.6, 1.6, 1.7, 1.5, 1.5, 1.8, 1.8, 1.7, -0.9, -1.1, -1.0, -0.6, -0.1, null, 2.1, 2.1, 2.0, 2.1, 2.1, 2.2];
const c4Minus = [-1.0, -0.6, -1.1, -1.3, -1.0, -1.5, -1.3, -1.6, -1.1, -1.4, -1.3, -1.6, -1.4, -1.8, -1.5, -1.2, -1.1, -1.3, -0.9, -1.2, -1.5, -1.0, -0.8, -0.8, -0.6, -0.4, 0.0, 0.5, 0.2, 0.6, 0.3, 0.1, 0.5, 0.2, 0.3, -0.1, 0.2, 1.0, -0.4, -0.2, 0.4, 0.8, 1.1, 0.6, 0.9, 0.5, 1.0, 0.7, 0.4, 0.8, 0.5, 0.9, 0.3, 0.6, -0.2, 2.2, 2.6, 2.7, 2.8, 2.6, 2.5, 2.7, 2.6, 2.5, 2.7, 2.6, 2.8, 2.5, 2.4, 2.6, 2.5, 2.7, 2.5, 2.6, 2.8, 2.7, 2.7, -0.6, -1.0, -0.7, -0.3, 0.0, null, 2.7, 2.6, 2.6, 2.5, 2.6, 2.7];
const c4Minus2 = [-1.1, -0.7, -1.0, -1.2, -1.1, -1.4, -1.4, -1.5, -1.2, -1.3, -1.4, -1.5, -1.5, -1.7, -1.6, -1.3, -1.0, -1.2, -1.0, -1.1, -1.4, -1.1, -0.9, -0.7, -0.7, -0.5, 0.1, 0.4, 0.3, 0.5, 0.4, 0.2, 0.4, 0.3, 0.2, 0.0, 0.1, 0.9, -0.3, -0.3, 0.3, 0.7, 1.0, 0.7, 0.8, 0.6, 0.9, 0.8, 0.5, 0.7, 0.6, 0.8, 0.4, 0.5, -0.1, 2.3, 2.5, 2.8, 2.7, 2.7, 2.6, 2.6, 2.7, 2.6, 2.6, 2.7, 2.7, 2.6, 2.5, 2.5, 2.6, 2.6, 2.6, 2.5, 2.7, 2.8, 2.6, -0.5, -0.9, -0.8, -0.2, 0.1, null, 2.6, 2.7, 2.5, 2.6, 2.5, 2.8];

// ---- layout (pixels) ----
const H = 1640;
const PX_PER_UNIT = 10;
const trackBase = { yA: 499, yB: 577, yC1: 637, yC2: 715, yD1: 895, yD2: 972, yE1: 1152, yE2: 1228, yF1: 1410, yF2: 1485 };
const trackRefs = { yA: [0, 1.5, 2.1], yB: [0, 1.5, 2.2], yC1: [0, 0.6], yC2: [0, 0.7], yD1: [0, 0.7], yD2: [0, 0.7],
  yE1: [0, 0.7], yE2: [0, 0.6], yF1: [0, 0.6], yF2: [0, 0.6] };
const refBreaks = [[693001, 693133], [693153, 702381], [702432, 703000]];
const geneLabelY = [76, 106, 97, 76, 85, 97, 97, 106, 117, 97, 106];
const FONT = '10px "DejaVu Sans Mono", monospace';

const scales = {
  x: { type: 'linear', min: regionStart, max: regionEnd, display: false }
};
Object.keys(trackBase).forEach(id => {
  const b = trackBase[id];
  scales[id] = { type: 'linear', display: false, min: -(H - b) / PX_PER_UNIT, max: b / PX_PER_UNIT };
});

function line(pos, vals, axis, color) {
  return {
    data: pos.map((x, i) => ({ x: x, y: vals[i] })),
    yAxisID: axis, borderColor: color, borderWidth: 1,
    pointRadius: 0, fill: false, tension: 0, spanGaps: false
  };
}

const bundleA = [bundleA1, bundleA2, bundleA3, bundleA4, bundleA5, bundleA6, bundleA7, bundleA8, bundleA9,
  bundleA10, bundleA11, bundleA12, bundleA13, bundleA14, bundleA15, bundleA16, bundleA17, bundleA18];
const bundleB = [bundleB1, bundleB2, bundleB3, bundleB4, bundleB5, bundleB6, bundleB7, bundleB8, bundleB9,
  bundleB10, bundleB11, bundleB12, bundleB13, bundleB14, bundleB15, bundleB16, bundleB17, bundleB18];

const datasets = [];
bundleA.forEach((v, i) => datasets.push(line(bundlePos, v, 'yA', bundleColors[i])));
bundleB.forEach((v, i) => datasets.push(line(bundlePos, v, 'yB', bundleColors[i])));

const GREEN = '#0a8f0a', BLUE = '#1030d8', RED = '#d01010', YELLOW = '#c8d000', BLACK = '#000';
datasets.push(line(gridPos, c1PlusRef, 'yC1', BLACK), line(gridPos, c1PlusRef2, 'yC1', BLACK),
  line(gridPos, c1Plus, 'yC1', GREEN), line(gridPos, c1Plus2, 'yC1', GREEN));
datasets.push(line(gridPos, c1MinusRef, 'yC2', BLACK), line(gridPos, c1MinusRef2, 'yC2', BLACK),
  line(gridPos, c1Minus, 'yC2', GREEN), line(gridPos, c1Minus2, 'yC2', GREEN));
datasets.push(line(gridPos, c2PlusRef, 'yD1', BLACK), line(gridPos, c2PlusRef2, 'yD1', BLACK),
  line(gridPos, c2PlusA, 'yD1', BLUE), line(gridPos, c2PlusB, 'yD1', BLUE));
datasets.push(line(gridPos, c2MinusRef, 'yD2', BLACK), line(gridPos, c2MinusRef2, 'yD2', BLACK),
  line(gridPos, c2Minus, 'yD2', BLUE), line(gridPos, c2Minus2, 'yD2', BLUE));
datasets.push(line(gridPos, c3PlusRef, 'yE1', BLACK), line(gridPos, c3PlusRef2, 'yE1', BLACK),
  line(gridPos, c3Plus, 'yE1', RED), line(gridPos, c3Plus2, 'yE1', RED));
datasets.push(line(gridPos, c3MinusRef, 'yE2', BLACK), line(gridPos, c3MinusRef2, 'yE2', BLACK),
  line(gridPos, c3Minus, 'yE2', RED), line(gridPos, c3Minus2, 'yE2', RED));
datasets.push(line(gridPos, c4PlusRef, 'yF1', BLACK), line(gridPos, c4PlusRef2, 'yF1', BLACK),
  line(gridPos, c4Plus, 'yF1', YELLOW), line(gridPos, c4Plus2, 'yF1', YELLOW));
datasets.push(line(gridPos, c4MinusRef, 'yF2', BLACK), line(gridPos, c4MinusRef2, 'yF2', BLACK),
  line(gridPos, c4Minus, 'yF2', YELLOW), line(gridPos, c4Minus2, 'yF2', YELLOW));

// draws everything that is not a profile line
const browserPlugin = {
  id: 'browser',
  beforeDatasetsDraw(chart) {
    const ctx = chart.ctx;
    const X = v => chart.scales.x.getPixelForValue(v);
    ctx.save();
    ctx.lineWidth = 1;
    ['yC1', 'yC2', 'yD1', 'yD2', 'yE1', 'yE2', 'yF1', 'yF2'].forEach(id => {
      ctx.strokeStyle = '#a06868';
      trackRefs[id].forEach(v => {
        const y = Math.round(chart.scales[id].getPixelForValue(v)) + 0.5;
        refBreaks.forEach(([a, b]) => {
          ctx.beginPath(); ctx.moveTo(X(a), y); ctx.lineTo(X(b), y); ctx.stroke();
        });
      });
    });
    ctx.restore();
  },
  afterDatasetsDraw(chart) {
    const ctx = chart.ctx;
    const X = v => chart.scales.x.getPixelForValue(v);
    const P = v => Math.round(X(v)) + 0.5;
    ctx.save();
    ctx.lineWidth = 1;
    ctx.font = FONT;
    ctx.textBaseline = 'middle';

    // bundle reference lines (black, above the profiles)
    ['yA', 'yB'].forEach(id => {
      ctx.strokeStyle = '#000';
      trackRefs[id].forEach(v => {
        const y = Math.round(chart.scales[id].getPixelForValue(v)) + 0.5;
        refBreaks.forEach(([a, b]) => {
          ctx.beginPath(); ctx.moveTo(X(a), y); ctx.lineTo(X(b), y); ctx.stroke();
        });
      });
    });

    // coordinate line
    ctx.strokeStyle = '#000';
    ctx.beginPath(); ctx.moveTo(X(regionStart), 38.5); ctx.lineTo(X(regionEnd), 38.5); ctx.stroke();
    axisTicks.forEach(t => {
      ctx.beginPath(); ctx.moveTo(P(t), 35); ctx.lineTo(P(t), 42); ctx.stroke();
    });
    ctx.fillStyle = '#000';
    ctx.textAlign = 'left';
    ctx.fillText('693 001', X(regionStart) - 1, 20);
    ctx.textAlign = 'right';
    ctx.fillText('703 000', X(regionEnd) - 2, 20);

    markStart.forEach((s, i) => {
      const span = markSpan[i];
      const top = span === 'down' ? 38 : 26;
      const bot = span === 'up' ? 38 : (span === 'down' ? 49 : 52);
      ctx.strokeStyle = markColor[i];
      ctx.strokeRect(P(s), top + 0.5, Math.max(1, Math.round(X(markEnd[i]) - X(s))), bot - top);
      if (span === 'full') {
        ctx.beginPath(); ctx.moveTo(P(s), 38.5); ctx.lineTo(P(markEnd[i]), 38.5); ctx.stroke();
      }
    });

    // genes
    const rowF = { bTop: 55.5, bBot: 68.5, hTop: 51.5, hBot: 72.5, mid: 62 };
    const rowR = { bTop: 77.5, bBot: 89.5, hTop: 72.5, hBot: 93.5, mid: 83 };
    const head = 11;
    geneNames.forEach((name, i) => {
      const a = P(geneStart[i]), b = P(geneEnd[i]);
      const fwd = geneStrand[i] > 0;
      const r = fwd ? rowF : rowR;
      ctx.beginPath();
      if (fwd) {
        ctx.moveTo(a, r.bTop); ctx.lineTo(b - head, r.bTop); ctx.lineTo(b - head, r.hTop); ctx.lineTo(b, r.mid);
        ctx.lineTo(b - head, r.hBot); ctx.lineTo(b - head, r.bBot); ctx.lineTo(a, r.bBot);
      } else {
        ctx.moveTo(b, r.bTop); ctx.lineTo(a + head, r.bTop); ctx.lineTo(a + head, r.hTop); ctx.lineTo(a, r.mid);
        ctx.lineTo(a + head, r.hBot); ctx.lineTo(a + head, r.bBot); ctx.lineTo(b, r.bBot);
      }
      ctx.closePath();
      ctx.fillStyle = name === 'SAOUHSC_00710' ? '#000' : '#fff';
      ctx.fill();
      ctx.strokeStyle = '#000';
      ctx.stroke();
      const inside = geneStart[i] > regionStart + 100 && geneEnd[i] < regionEnd - 100;
      if (inside) {
        const s = fwd ? a : b;
        ctx.beginPath(); ctx.moveTo(s, r.hTop - 1); ctx.lineTo(s, r.hBot); ctx.stroke();
      }
      ctx.fillStyle = '#000';
      ctx.textAlign = 'center';
      ctx.fillText(name, (a + b) / 2, geneLabelY[i]);
    });

    // operon rows
    function segRow(starts, ends, labels, color, top, bot, labelY) {
      ctx.strokeStyle = color;
      starts.forEach((s, i) => {
        ctx.strokeRect(P(s), top + 0.5, Math.round(X(ends[i]) - X(s)), bot - top);
        if (labels[i]) {
          ctx.fillStyle = '#000'; ctx.textAlign = 'center';
          ctx.fillText(labels[i], (X(s) + X(ends[i])) / 2, labelY);
        }
      });
    }
    function siteRow(starts, ends, colors, labels, top, bot, labelY) {
      starts.forEach((s, i) => {
        ctx.fillStyle = colors[i];
        ctx.fillRect(Math.round(X(s)), top, Math.round(X(ends[i]) - X(s)) + 1, bot - top + 1);
        if (labels[i]) {
          ctx.fillStyle = '#000'; ctx.textAlign = 'center';
          ctx.fillText(labels[i], (X(s) + X(ends[i])) / 2, labelY);
        }
      });
    }
    segRow(blueSegStart, blueSegEnd, blueSegLabel, '#0000ff', 207, 218, 224);
    siteRow(blueSiteStart, blueSiteEnd, blueSiteColor, blueSiteLabel, 207, 218, 224);
    segRow(redSegStart, redSegEnd, redSegLabel, '#ff0000', 258, 268, 275);
    siteRow(redSiteStart, redSiteEnd, redSiteColor, redSiteLabel, 258, 268, 275);

    // promoter / terminator line
    ctx.strokeStyle = '#000';
    ctx.beginPath(); ctx.moveTo(X(regionStart), 366.5); ctx.lineTo(X(regionEnd), 366.5); ctx.stroke();
    txStart.forEach((s, i) => {
      const y = txStrand[i] > 0 ? [336.5, 331.5][txLevel[i]] : [397.5, 401.5, 406.5][txLevel[i]];
      ctx.strokeStyle = txColor[i];
      ctx.beginPath(); ctx.moveTo(X(s), y); ctx.lineTo(X(txEnd[i]), y); ctx.stroke();
    });
    flagNames.forEach((name, i) => {
      const x = P(flagPos[i]);
      const up = flagStrand[i] > 0;
      ctx.strokeStyle = '#ff0000'; ctx.fillStyle = '#ff0000';
      if (name[0] === 'D') {
        if (up) {
          ctx.fillRect(x - 11.5, 353, 12, 9);
          ctx.beginPath(); ctx.moveTo(x, 362); ctx.lineTo(x, 366); ctx.stroke();
          ctx.fillStyle = '#000'; ctx.textAlign = 'right';
          ctx.fillText(name, x - 12, 358);
        } else {
          ctx.strokeRect(x, 366.5, 3, 4);
          ctx.fillRect(x - 0.5, 371, 11, 9);
          ctx.fillStyle = '#000'; ctx.textAlign = 'left';
          ctx.fillText(name, x + 10, 375);
        }
      } else {
        ctx.beginPath();
        if (up) {
          ctx.moveTo(x, 366); ctx.lineTo(x, 343); ctx.stroke();
          ctx.beginPath(); ctx.moveTo(x - 0.5, 343); ctx.lineTo(x + 10, 343); ctx.lineTo(x - 0.5, 353); ctx.closePath(); ctx.fill();
          ctx.strokeRect(x - 1, 362.5, 3, 3);
          ctx.fillStyle = '#000'; ctx.textAlign = 'left';
          ctx.fillText(name, x + 9, 350);
        } else {
          ctx.moveTo(x, 366); ctx.lineTo(x, 389); ctx.stroke();
          ctx.beginPath(); ctx.moveTo(x + 0.5, 390); ctx.lineTo(x - 10, 390); ctx.lineTo(x + 0.5, 381); ctx.closePath(); ctx.fill();
          ctx.fillStyle = '#000'; ctx.textAlign = 'right';
          ctx.fillText(name, x - 9, 383);
        }
      }
    });

    // condition bars
    function bars(starts, ends, color, top, bot) {
      starts.forEach((s, i) => {
        ctx.fillStyle = color;
        ctx.fillRect(Math.round(X(s)), top, Math.round(X(ends[i]) - X(s)), bot - top);
        ctx.fillStyle = '#000';
        ctx.fillRect(Math.round((X(s) + X(ends[i])) / 2) - 2, bot + 5, 5, 1);
      });
    }
    bars(greenBarStart, greenBarEnd, '#009000', 824, 836);
    bars(blueBarStart, blueBarEnd, '#0a32c8', 1083, 1093);
    bars(redBarStart, redBarEnd, '#b40000', 1339, 1350);
    bars(yellowBarStart, yellowBarEnd, '#c8d40a', 1597, 1608);
    ctx.restore();
  }
};

new Chart(document.getElementById('c'), {
  type: 'line',
  data: { datasets: datasets },
  options: {
    responsive: false,
    animation: false,
    events: [],
    layout: { padding: { left: 20, right: 20, top: 0, bottom: 0 } },
    plugins: { legend: { display: false }, tooltip: { enabled: false } },
    scales: scales
  },
  plugins: [browserPlugin]
});
</script>
</body>
</html>
